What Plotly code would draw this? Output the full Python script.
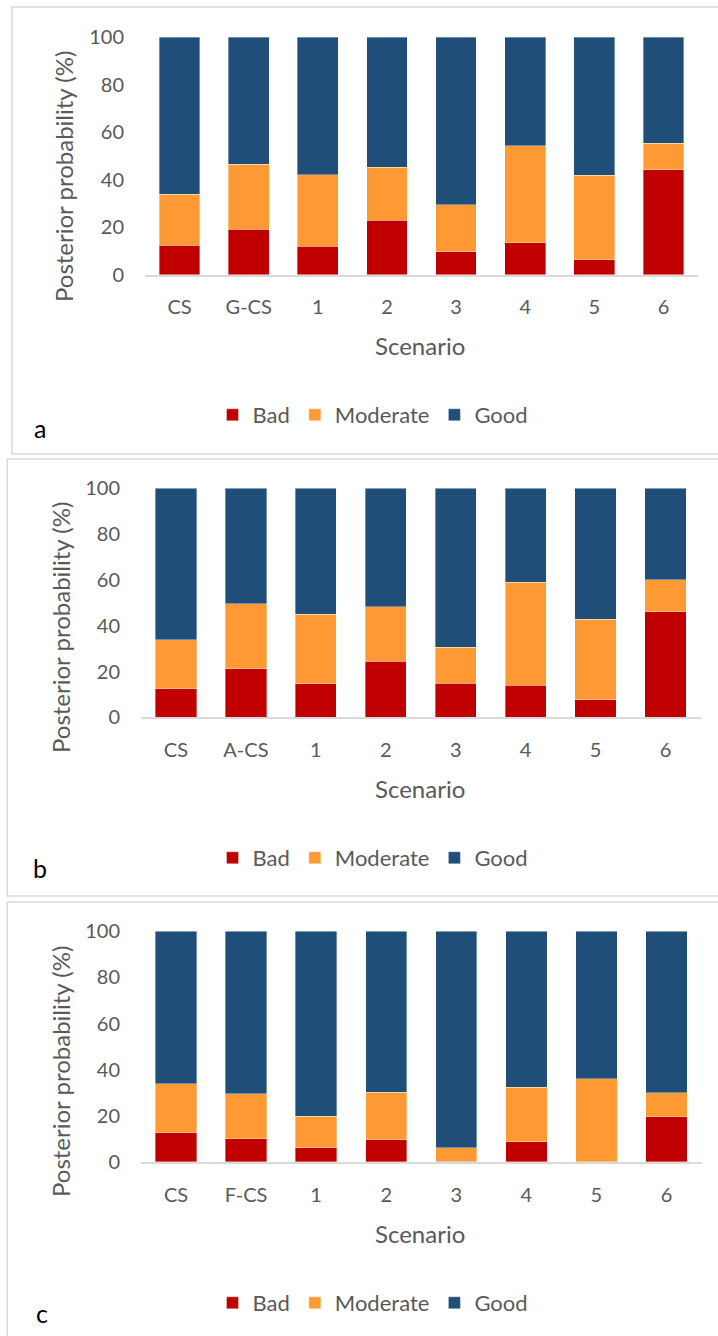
import plotly.graph_objects as go

W, H = 718, 1336

categories_a = ["CS", "G-CS", "1", "2", "3", "4", "5", "6"]
categories_b = ["CS", "A-CS", "1", "2", "3", "4", "5", "6"]
categories_c = ["CS", "F-CS", "1", "2", "3", "4", "5", "6"]

bad_a = [12.4, 19.2, 12.0, 23.0, 9.7, 13.4, 6.3, 44.1]
moderate_a = [21.4, 27.3, 30.1, 22.2, 19.7, 40.8, 35.5, 11.3]
good_a = [66.2, 53.5, 57.9, 54.8, 70.6, 45.8, 58.2, 44.6]

bad_b = [12.5, 21.3, 14.7, 24.5, 14.8, 14.0, 7.7, 46.0]
moderate_b = [21.4, 28.3, 30.4, 23.7, 15.8, 45.0, 35.2, 14.0]
good_b = [66.1, 50.4, 54.9, 51.8, 69.4, 41.0, 57.1, 40.0]

bad_c = [12.6, 10.1, 6.2, 9.7, 0.4, 8.7, 0.1, 19.7]
moderate_c = [21.4, 19.4, 13.7, 20.6, 5.7, 23.8, 35.9, 10.4]
good_c = [66.0, 70.5, 80.1, 69.7, 93.9, 67.5, 64.0, 69.9]

series_names = ["Bad", "Moderate", "Good"]
colors = ["#C00000", "#FF9933", "#1F4E79"]
panel_letters = ["a", "b", "c"]
y_ticks = [0, 20, 40, 60, 80, 100]

FONT = "Lato"
GREY = "#595959"


def px(x):
    return x / W


def py(y):
    return 1 - y / H


# pixel geometry of each panel: plot x0, x1, y(0), y(100), border box, text positions
panels = [
    dict(cats=categories_a, data=[bad_a, moderate_a, good_a],
         x0=145, x1=698, y0=274.7, y100=37,
         box=(12, 7, 730, 454), ytitle=(63, 177), xtitle=(420, 345),
         letter=(40, 428), legend=(373, 415)),
    dict(cats=categories_b, data=[bad_b, moderate_b, good_b],
         x0=141, x1=700.5, y0=717.3, y100=488.3,
         box=(7.3, 459, 730, 896), ytitle=(60, 628), xtitle=(420, 788),
         letter=(40, 868), legend=(373, 858)),
    dict(cats=categories_c, data=[bad_c, moderate_c, good_c],
         x0=141, x1=701.5, y0=1162, y100=931.3,
         box=(7.3, 902, 730, 1345), ytitle=(60, 1072), xtitle=(420, 1233),
         letter=(42, 1313), legend=(373, 1303)),
]

fig = go.Figure()
annotations = []
shapes = []
layout_extra = {}

for i, p in enumerate(panels):
    n = i + 1
    xa = "x" if n == 1 else f"x{n}"
    ya = "y" if n == 1 else f"y{n}"
    leg = "legend" if n == 1 else f"legend{n}"
    for name, vals, col in zip(series_names, p["data"], colors):
        fig.add_trace(go.Bar(
            x=p["cats"], y=vals, name=name, xaxis=xa, yaxis=ya,
            marker=dict(color=col, line=dict(color="rgba(255,255,255,0.6)", width=0.6)),
            legend=leg, showlegend=True,
        ))
    xk = "xaxis" if n == 1 else f"xaxis{n}"
    yk = "yaxis" if n == 1 else f"yaxis{n}"
    layout_extra[xk] = dict(
        domain=[px(p["x0"]), px(p["x1"])], anchor=ya,
        showline=True, linecolor="#D9D9D9", linewidth=1.5,
        showgrid=False, zeroline=False, ticks="", automargin=False,
        tickfont=dict(family=FONT, size=20, color=GREY),
        ticklabelstandoff=14, fixedrange=True,
    )
    layout_extra[yk] = dict(
        domain=[py(p["y0"]), py(p["y100"])], anchor=xa,
        range=[0, 100], tickvals=y_ticks, automargin=False,
        showline=False, showgrid=False, zeroline=False, ticks="",
        tickfont=dict(family=FONT, size=20, color=GREY),
        ticklabelstandoff=20, fixedrange=True,
    )
    layout_extra[leg] = dict(
        orientation="h", x=px(p["legend"][0]), y=py(p["legend"][1]),
        xanchor="center", yanchor="middle", traceorder="normal",
        font=dict(family=FONT, size=22, color=GREY),
        bgcolor="rgba(0,0,0,0)", itemclick=False, itemdoubleclick=False,
    )
    bx0, by0, bx1, by1 = p["box"]
    shapes.append(dict(type="rect", xref="paper", yref="paper",
                       x0=px(bx0), x1=px(bx1), y0=py(by1), y1=py(by0),
                       line=dict(color="#D9D9D9", width=1.5), layer="below"))
    annotations.append(dict(text="Posterior probability (%)", xref="paper", yref="paper",
                            x=px(p["ytitle"][0]), y=py(p["ytitle"][1]), textangle=-90,
                            showarrow=False, xanchor="center", yanchor="middle",
                            font=dict(family=FONT, size=24, color=GREY)))
    annotations.append(dict(text="Scenario", xref="paper", yref="paper",
                            x=px(p["xtitle"][0]), y=py(p["xtitle"][1]),
                            showarrow=False, xanchor="center", yanchor="middle",
                            font=dict(family=FONT, size=24, color=GREY)))
    annotations.append(dict(text=panel_letters[i], xref="paper", yref="paper",
                            x=px(p["letter"][0]), y=py(p["letter"][1]),
                            showarrow=False, xanchor="center", yanchor="middle",
                            font=dict(family=FONT, size=25, color="#000000")))

fig.update_layout(
    width=W, height=H,
    margin=dict(l=0, r=0, t=0, b=0, autoexpand=False),
    paper_bgcolor="white", plot_bgcolor="white",
    barmode="stack", bargap=0.41,
    shapes=shapes, annotations=annotations,
    **layout_extra,
)

fig.write_html(
    "out.html",
    config={"displayModeBar": False},
    post_script="document.body.style.margin='0px';document.body.style.overflow='hidden';",
)
